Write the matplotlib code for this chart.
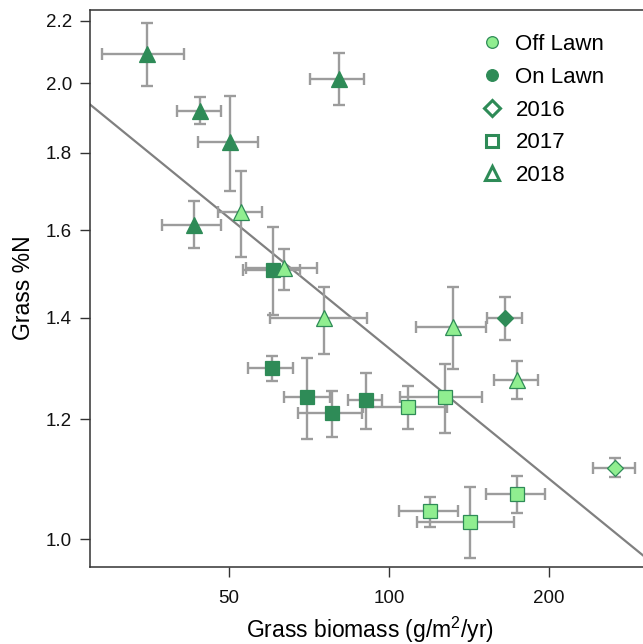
import numpy as np
import matplotlib
matplotlib.use("Agg")
import matplotlib.pyplot as plt
from matplotlib.lines import Line2D

plt.rcParams['font.family'] = ['Liberation Sans', 'DejaVu Sans']
plt.rcParams['mathtext.default'] = 'regular'

# grass biomass (g/m2/yr) with error bar ends
biomass = [35.0, 44.1, 50.2, 52.7, 43.0, 60.6, 63.4, 80.5, 75.5, 60.3, 70.2,
           78.0, 90.6, 108.4, 127.6, 132.1, 165.3, 173.9, 266.2, 174.3, 119.6, 142.2]
biomass_lo = [28.9, 40.0, 43.8, 47.6, 37.5, 53.1, 53.8, 70.9, 59.8, 54.2, 63.4,
              67.3, 83.8, 89.2, 105.0, 112.3, 153.1, 157.8, 241.7, 152.0, 104.6, 112.8]
biomass_hi = [41.1, 48.4, 56.7, 57.8, 48.4, 68.0, 73.2, 89.8, 91.1, 66.1, 77.3,
              88.9, 97.1, 128.4, 149.9, 152.3, 177.7, 190.4, 290.3, 196.6, 134.7, 172.1]

# grass %N with error bar ends
nitrogen = [2.091, 1.918, 1.829, 1.644, 1.613, 1.506, 1.510, 2.014, 1.399, 1.298, 1.241,
            1.211, 1.236, 1.223, 1.241, 1.380, 1.399, 1.274, 1.115, 1.071, 1.044, 1.027]
nitrogen_lo = [1.992, 1.880, 1.699, 1.537, 1.557, 1.406, 1.461, 1.935, 1.325, 1.272, 1.164,
               1.169, 1.183, 1.183, 1.176, 1.295, 1.354, 1.238, 1.100, 1.040, 1.019, 0.9715]
nitrogen_hi = [2.191, 1.960, 1.962, 1.751, 1.673, 1.607, 1.554, 2.096, 1.468, 1.322, 1.317,
               1.253, 1.288, 1.262, 1.306, 1.467, 1.446, 1.311, 1.132, 1.101, 1.066, 1.083]

lawn = ['On', 'On', 'On', 'Off', 'On', 'On', 'Off', 'On', 'Off', 'On', 'On',
        'On', 'On', 'Off', 'Off', 'Off', 'On', 'Off', 'Off', 'Off', 'Off', 'Off']
year = [2018, 2018, 2018, 2018, 2018, 2017, 2018, 2018, 2018, 2017, 2017,
        2017, 2017, 2017, 2017, 2018, 2016, 2018, 2016, 2017, 2017, 2017]

# fitted line (log-log), end points
fit_x = [27.4, 310.0]
fit_y = [1.937, 0.967]

x_ticks = [50, 100, 200]
y_ticks = [1.0, 1.2, 1.4, 1.6, 1.8, 2.0, 2.2]

dark = '#2E8B57'
light = '#90EE90'
markers = {2016: 'D', 2017: 's', 2018: '^'}
msizes = {2016: 8.5, 2017: 9.4, 2018: 12.2}

fig = plt.figure(figsize=(6.43, 6.44), dpi=100)
ax = fig.add_axes([0.140, 0.120, 0.8712, 0.8652])
ax.set_xscale('log')
ax.set_yscale('log')

ax.plot(fit_x, fit_y, color='#808080', lw=1.6, zorder=1)

x = np.array(biomass)
y = np.array(nitrogen)
xerr = [x - np.array(biomass_lo), np.array(biomass_hi) - x]
yerr = [y - np.array(nitrogen_lo), np.array(nitrogen_hi) - y]
ax.errorbar(x, y, xerr=xerr, yerr=yerr, fmt='none', ecolor='#9c9c9c',
            elinewidth=1.7, capsize=4.2, capthick=1.7, zorder=2)

for i in range(len(x)):
    fc = dark if lawn[i] == 'On' else light
    ax.plot(x[i], y[i], marker=markers[year[i]], ms=msizes[year[i]],
            mfc=fc, mec=dark, mew=0.9, ls='none', zorder=3)

ax.set_xlim(27.4, 310)
ax.set_ylim(0.959, 2.238)
ax.minorticks_off()
ax.set_xticks(x_ticks)
ax.set_xticklabels([str(t) for t in x_ticks])
ax.set_yticks(y_ticks)
ax.set_yticklabels(['%.1f' % t for t in y_ticks])
ax.tick_params(axis='both', which='major', length=7, width=1, color='#333333',
               labelsize=13.5, labelcolor='#111111')
ax.tick_params(axis='x', pad=9.5)
ax.tick_params(axis='y', pad=6)

for s in ['left', 'bottom', 'top']:
    ax.spines[s].set_color('#333333')
    ax.spines[s].set_linewidth(1.1)
ax.spines['right'].set_visible(False)

ax.set_xlabel('Grass biomass (g/m$^2$/yr)', fontsize=16.5, labelpad=6)
ax.set_ylabel('Grass %N', fontsize=16.5, labelpad=8)

handles = [
    Line2D([], [], ls='none', marker='o', ms=8.4, mfc=light, mec=dark, mew=0.9),
    Line2D([], [], ls='none', marker='o', ms=8.4, mfc=dark, mec=dark, mew=0.9),
    Line2D([], [], ls='none', marker='D', ms=8.5, mfc='none', mec=dark, mew=2.2),
    Line2D([], [], ls='none', marker='s', ms=8.5, mfc='none', mec=dark, mew=2.2),
    Line2D([], [], ls='none', marker='^', ms=10.5, mfc='none', mec=dark, mew=2.2),
]
labels = ['Off Lawn', 'On Lawn', '2016', '2017', '2018']
ax.legend(handles, labels, loc='upper left', bbox_to_anchor=(0.748, 0.947),
          bbox_transform=fig.transFigure, frameon=False, fontsize=16,
          handlelength=1.0, handletextpad=0.55, labelspacing=0.53,
          borderpad=0, borderaxespad=0)

fig.savefig('out.png', dpi=100)
